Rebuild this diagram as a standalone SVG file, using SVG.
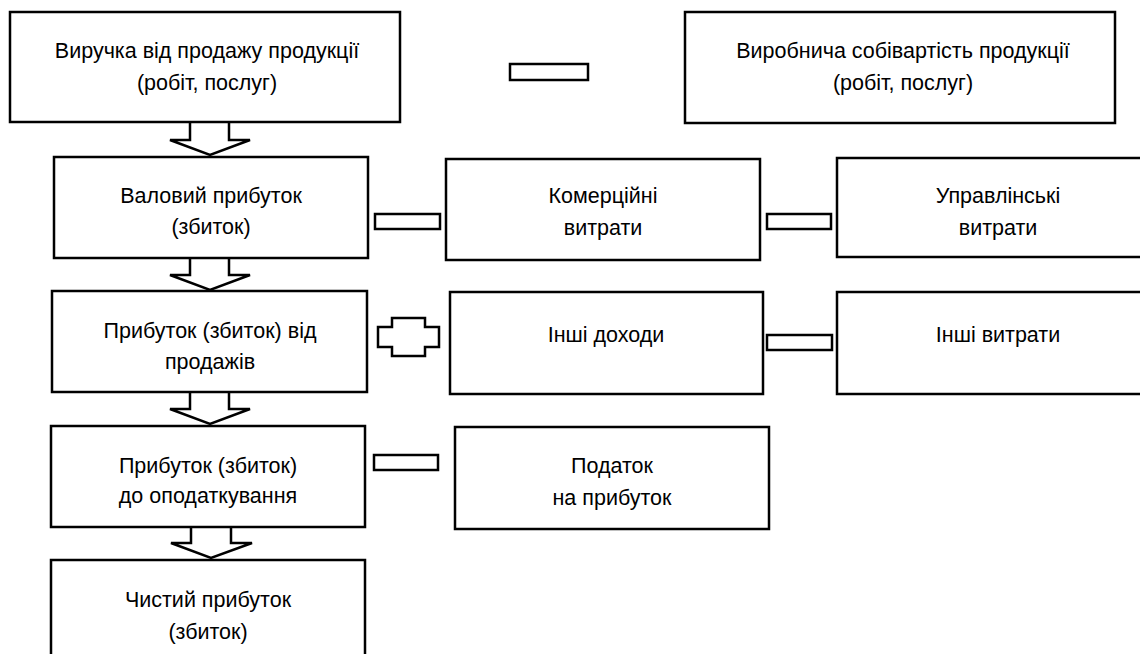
<svg xmlns="http://www.w3.org/2000/svg" width="1140" height="654" viewBox="0 0 1140 654">
<style>
rect.box{fill:#fff;stroke:#000;stroke-width:2.5}
.conn{fill:#fff;stroke:#000;stroke-width:2.5;stroke-linejoin:miter}
text{font-family:"Liberation Sans",Arial,sans-serif;font-size:21.5px;fill:#000;text-anchor:middle}
</style>
<rect width="1140" height="654" fill="#fff"/>
<g id="connectors">
<path class="conn" d="M190,122 V140 H170 L210,155 L250,140 H229 V122"/>
<path class="conn" d="M190,258 V275 H170 L210,290 L250,275 H229 V258"/>
<path class="conn" d="M190,392 V409 H170 L210,424 L250,409 H229 V392"/>
<path class="conn" d="M191,527 V543 H171 L211,558 L252,543 H231 V527"/>
<rect class="conn" x="510" y="64" width="78" height="16"/>
<rect class="conn" x="375" y="214" width="65" height="15"/>
<rect class="conn" x="767" y="214" width="64" height="15"/>
<path class="conn" d="M378,327 H392 V318 H425 V327 H439 V347 H425 V356 H392 V347 H378 Z"/>
<rect class="conn" x="767" y="335" width="65" height="15"/>
<rect class="conn" x="374" y="455" width="64" height="15"/>
</g>
<g id="n1"><rect class="box" x="10" y="12" width="390" height="110"/><text x="207" y="58">Виручка від продажу продукції</text><text x="207" y="90">(робіт, послуг)</text></g>
<g id="n2"><rect class="box" x="685" y="12" width="430" height="111"/><text x="903" y="58">Виробнича собівартість продукції</text><text x="903" y="90">(робіт, послуг)</text></g>
<g id="n3"><rect class="box" x="54" y="157" width="314" height="101"/><text x="211" y="203">Валовий прибуток</text><text x="211" y="234">(збиток)</text></g>
<g id="n4"><rect class="box" x="446" y="159" width="314" height="101"/><text x="603" y="203">Комерційні</text><text x="603" y="235">витрати</text></g>
<g id="n5"><rect class="box" x="837" y="158" width="322" height="99"/><text x="998" y="203">Управлінські</text><text x="998" y="235">витрати</text></g>
<g id="n6"><rect class="box" x="52" y="291" width="315" height="101"/><text x="210" y="338">Прибуток (збиток) від</text><text x="210" y="369">продажів</text></g>
<g id="n7"><rect class="box" x="450" y="292" width="313" height="102"/><text x="606" y="342">Інші доходи</text></g>
<g id="n8"><rect class="box" x="837" y="292" width="322" height="102"/><text x="998" y="342">Інші витрати</text></g>
<g id="n9"><rect class="box" x="51" y="426" width="314" height="101"/><text x="208" y="473">Прибуток (збиток)</text><text x="208" y="503">до оподаткування</text></g>
<g id="n10"><rect class="box" x="455" y="427" width="314" height="102"/><text x="612" y="473">Податок</text><text x="612" y="505">на прибуток</text></g>
<g id="n11"><rect class="box" x="51" y="560" width="314" height="110"/><text x="208" y="607">Чистий прибуток</text><text x="208" y="639">(збиток)</text></g>
</svg>
